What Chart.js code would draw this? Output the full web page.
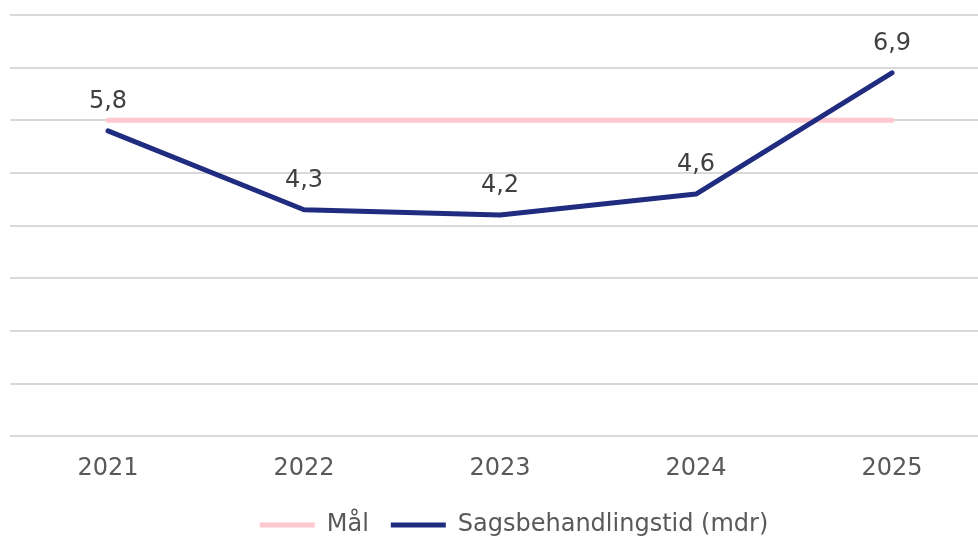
<!DOCTYPE html>
<html>
<head>
<meta charset="utf-8">
<script src="https://cdn.jsdelivr.net/npm/chart.js@4"></script>
<style>
  html, body { margin: 0; padding: 0; background: #fff; overflow: hidden; }
  #wrap { width: 990px; height: 549px; position: relative; }
</style>
</head>
<body>
<div id="wrap"><canvas id="myChart"></canvas></div>
<script>
const years = ['2021', '2022', '2023', '2024', '2025'];
const maal = [6, 6, 6, 6, 6];
const sagsbehandlingstid = [5.8, 4.3, 4.2, 4.6, 6.9];
const yTicks = [0, 1, 2, 3, 4, 5, 6, 7, 8];

const textColor = '#595959';
const font = "'DejaVu Sans', Verdana, sans-serif";

// labels over the blue line, with decimal comma
const valueLabels = {
  id: 'valueLabels',
  afterDatasetsDraw(chart) {
    const ctx = chart.ctx;
    const meta = chart.getDatasetMeta(1);
    ctx.save();
    ctx.font = '24px ' + font;
    ctx.fillStyle = '#404040';
    ctx.textAlign = 'center';
    ctx.textBaseline = 'middle';
    meta.data.forEach((pt, i) => {
      const v = chart.data.datasets[1].data[i];
      ctx.fillText(v.toFixed(1).replace('.', ','), pt.x, pt.y - 29);
    });
    ctx.restore();
  }
};

// nudge legend to where the original has it
const legendShift = {
  id: 'legendShift',
  afterLayout(chart) {
    const lg = chart.legend;
    lg.left += 14;
    lg.right += 14;
    lg.top -= 2;
    lg.bottom -= 2;
  }
};

const ctx = document.getElementById('myChart').getContext('2d');
new Chart(ctx, {
  type: 'line',
  data: {
    labels: years,
    datasets: [{
      label: 'Mål',
      data: maal,
      borderColor: '#ffc7ce',
      backgroundColor: '#ffc7ce',
      borderWidth: 5,
      borderCapStyle: 'round',
      pointRadius: 0,
      pointStyle: 'line',
      order: 1
    }, {
      label: 'Sagsbehandlingstid (mdr)',
      data: sagsbehandlingstid,
      borderColor: '#1f2c80',
      backgroundColor: '#1f2c80',
      borderWidth: 5,
      borderCapStyle: 'round',
      borderJoinStyle: 'round',
      pointRadius: 0,
      pointStyle: 'line',
      tension: 0,
      order: 0
    }]
  },
  options: {
    responsive: true,
    maintainAspectRatio: false,
    animation: false,
    layout: { padding: { left: 10, right: 0, top: 15, bottom: 0 } },
    plugins: {
      tooltip: { enabled: false },
      legend: {
        position: 'bottom',
        labels: {
          usePointStyle: true,
          pointStyleWidth: 55,
          color: textColor,
          font: { family: font, size: 24 },
          padding: 22,
          sort: (a, b) => a.datasetIndex - b.datasetIndex
        }
      }
    },
    scales: {
      x: {
        offset: true,
        grid: { display: false },
        border: { display: false },
        ticks: { color: textColor, font: { family: font, size: 24 }, padding: 10 }
      },
      y: {
        min: yTicks[0],
        max: yTicks[yTicks.length - 1],
        afterBuildTicks: axis => { axis.ticks = yTicks.map(v => ({ value: v })); },
        grid: { color: '#d9d9d9', lineWidth: 2, drawTicks: false },
        border: { display: false },
        ticks: { display: false }
      }
    }
  },
  plugins: [valueLabels, legendShift]
});
</script>
</body>
</html>
